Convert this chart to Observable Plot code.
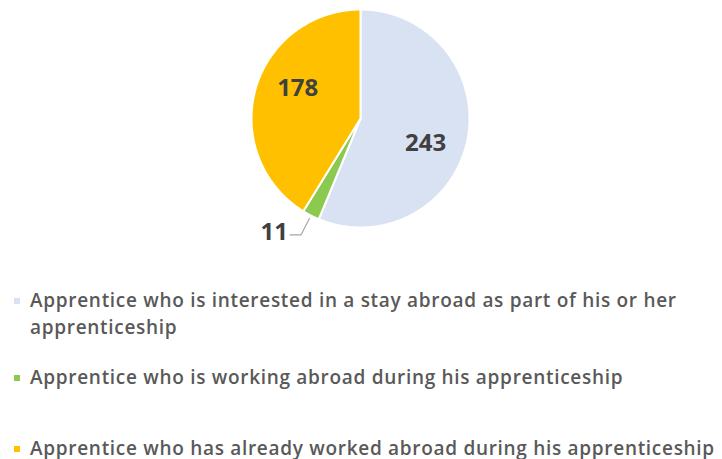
<!DOCTYPE html>
<html><head><meta charset="utf-8">
<script src="https://cdn.jsdelivr.net/npm/d3@7"></script>
<script src="https://cdn.jsdelivr.net/npm/@observablehq/plot@0.6"></script>
<style>
body{margin:0;background:#fff;font-family:"Open Sans",sans-serif;}
#chart{height:260px;}
#legend{position:relative;width:722px;height:199px;color:#595959;font-weight:600;font-size:19px;letter-spacing:0.7px;line-height:27px;}
.item{position:absolute;left:30px;width:692px;white-space:normal;}
.sw{position:absolute;left:-16px;top:11px;width:6px;height:6px;}
</style></head><body><div id="chart"></div><div id="legend"></div>
<script>
const categories = [
  "Apprentice who is interested in a stay abroad as part of his or her apprenticeship",
  "Apprentice who is working abroad during his apprenticeship",
  "Apprentice who has already worked abroad during his apprenticeship"
];
const values = [243, 11, 178];
const colors = ["#D9E2F3", "#8BC94F", "#FFC000"];
const outsideLabels = [false, true, false];

const W = 722, H = 260, CX = 360, CY = 118, R = 109;
const LABEL_R = 0.64, LABEL_TURN = 10 * Math.PI / 180;
const rows = categories.map((c, i) => ({cat: c, value: values[i], outside: outsideLabels[i]}));
const arcs = d3.pie().sort(null).value(d => d.value)(rows);
const polar = (a, r) => [Math.sin(a) * r, Math.cos(a) * r];

const pts = [];
arcs.forEach(a => {
  pts.push({cat: a.data.cat, x: 0, y: 0});
  const n = Math.max(2, Math.ceil((a.endAngle - a.startAngle) / (Math.PI / 360)));
  for (let k = 0; k <= n; k++) {
    const t = a.startAngle + (a.endAngle - a.startAngle) * k / n;
    const [x, y] = polar(t, 1);
    pts.push({cat: a.data.cat, x, y});
  }
});

const inside = [], outside = [], leaders = [];
arcs.forEach(a => {
  const mid = (a.startAngle + a.endAngle) / 2;
  if (!a.data.outside) {
    const [x, y] = polar(mid + LABEL_TURN, LABEL_R);
    inside.push({x, y, label: String(a.data.value)});
  } else {
    const [x0, y0] = polar(mid, 1.03);
    const [x1, y1] = polar(mid, 1.2);
    const x2 = x1 - 0.1;
    leaders.push({x: x0, y: y0}, {x: x1, y: y1}, {x: x2, y: y1});
    outside.push({x: x2 - 0.02, y: y1 + 0.02, label: String(a.data.value)});
  }
});

const chart = Plot.plot({
  width: W, height: H,
  margin: 0,
  x: {domain: [-CX / R, (W - CX) / R], axis: null},
  y: {domain: [-(H - CY) / R, CY / R], axis: null},
  color: {domain: categories, range: colors},
  marks: [
    Plot.line(pts, {x: "x", y: "y", z: "cat", fill: "cat", stroke: "white", strokeWidth: 2, curve: "linear-closed"}),
    Plot.line(leaders, {x: "x", y: "y", stroke: "#A6A6A6", strokeWidth: 1.2}),
    Plot.text(inside, {x: "x", y: "y", text: "label", fontSize: 24, fontWeight: 700, fill: "#404040", fontFamily: "Open Sans"}),
    Plot.text(outside, {x: "x", y: "y", text: "label", textAnchor: "end", fontSize: 24, fontWeight: 700, fill: "#404040", fontFamily: "Open Sans"})
  ]
});
document.getElementById("chart").append(chart);

const centers = [300, 377, 448];
const legend = document.getElementById("legend");
categories.forEach((c, i) => {
  const d = document.createElement("div");
  d.className = "item";
  d.style.top = (centers[i] - 13.5 - 260) + "px";
  const sw = document.createElement("span");
  sw.className = "sw";
  sw.style.background = colors[i];
  d.append(sw, document.createTextNode(c));
  legend.append(d);
});
</script></body></html>
